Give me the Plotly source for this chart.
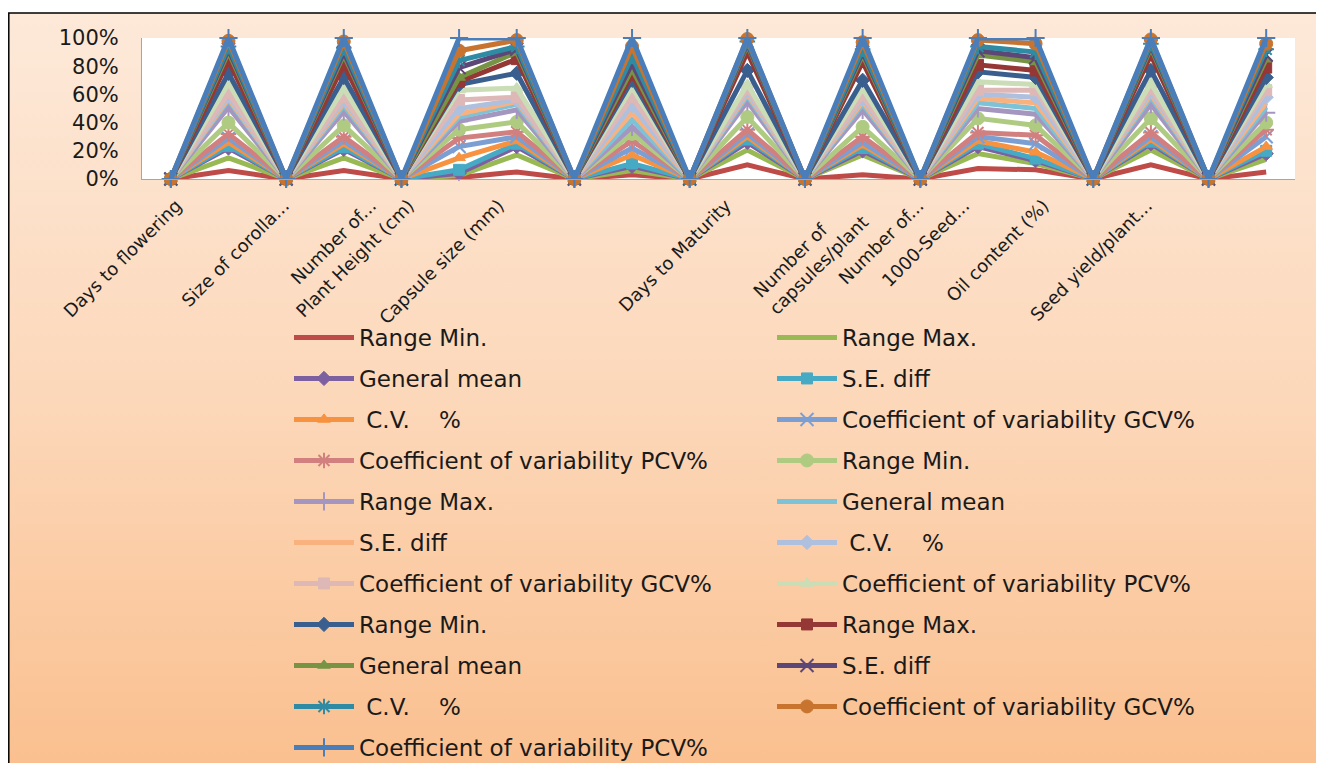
import base64
import plotly.graph_objects as go

# 20 category columns on the axis; the spacer columns hold zero values
slots = list(range(20))

trait_labels = ["Days to flowering", "Size of corolla...", "Number of...", "Plant Height (cm)",
                "Capsule size (mm)", "Days to Maturity",
                "Number of" + "\u00a0" * 6 + "<br>capsules/plant",
                "Number of...", "1000-Seed...", "Oil content (%)", "Seed yield/plant..."]

series_names = ["Range Min.", "Range Max.", "General mean", "S.E. diff",
                "\u00a0C.V.\u00a0\u00a0\u00a0\u00a0%", "Coefficient of variability GCV%",
                "Coefficient of variability PCV%"] * 3

y_tick_values = [0, 20, 40, 60, 80, 100]
y_tick_labels = ["0%", "20%", "40%", "60%", "80%", "100%"]

# share of each series (percent of column total) per column
range_min_1 = [0, 6, 0, 6, 0, 1, 5, 0, 3, 0, 10, 0, 3, 0, 7.5, 6.5, 0, 10, 0, 5]
range_max_1 = [0, 9, 0, 9, 0, 1.5, 12, 0, 3, 0, 10.5, 0, 14, 0, 10.5, 4.5, 0, 10.5, 0, 9]
mean_1 = [0, 7, 0, 6, 0, 1.5, 6, 0, 3, 0, 5.5, 0, 3, 0, 5, 2, 0, 4.5, 0, 4]
se_1 = [0, 1.5, 0, 1.5, 0, 2.5, 2, 0, 2, 0, 2, 0, 2, 0, 2, 1.5, 0, 1.5, 0, 2]
cv_1 = [0, 2.5, 0, 2.5, 0, 8.5, 2, 0, 6, 0, 2, 0, 2, 0, 2, 4.5, 0, 1.5, 0, 3]
gcv_1 = [0, 3, 0, 2, 0, 8, 3, 0, 5, 0, 2, 0, 2, 0, 3, 6, 0, 2, 0, 7]
pcv_1 = [0, 3, 0, 3, 0, 6, 3.5, 0, 5, 0, 3, 0, 4, 0, 3, 6, 0, 3, 0, 5]
range_min_2 = [0, 8, 0, 8, 0, 6, 7, 0, 5, 0, 9, 0, 7, 0, 10, 7, 0, 10, 0, 5]
range_max_2 = [0, 11, 0, 10, 0, 6, 8.5, 0, 5, 0, 11, 0, 12, 0, 7, 8, 0, 10, 0, 7]
mean_2 = [0, 5, 0, 4, 0, 3, 4, 0, 5, 0, 4, 0, 4, 0, 4, 4, 0, 5, 0, 4]
se_2 = [0, 1.5, 0, 2, 0, 2, 2, 0, 5, 0, 1.5, 0, 2, 0, 3, 4, 0, 2, 0, 3]
cv_2 = [0, 1.5, 0, 2, 0, 4, 1, 0, 5, 0, 1.5, 0, 2, 0, 3, 4, 0, 2, 0, 4]
gcv_2 = [0, 2, 0, 2, 0, 6, 2, 0, 6, 0, 2, 0, 2, 0, 3, 5, 0, 2, 0, 5]
pcv_2 = [0, 7, 0, 6, 0, 7, 6.5, 0, 7, 0, 3, 0, 5, 0, 6, 4, 0, 4, 0, 4]
range_min_3 = [0, 7, 0, 8, 0, 4, 10.5, 0, 5, 0, 10, 0, 6, 0, 7, 5, 0, 9, 0, 5]
range_max_3 = [0, 9, 0, 9, 0, 2, 10, 0, 4, 0, 13, 0, 13, 0, 5, 5, 0, 11, 0, 7]
mean_3 = [0, 6, 0, 7, 0, 3, 5, 0, 4, 0, 5, 0, 5, 0, 7, 6, 0, 5, 0, 6]
se_3 = [0, 2, 0, 2, 0, 7, 2, 0, 4, 0, 1, 0, 2, 0, 3, 3, 0, 1.5, 0, 3]
cv_3 = [0, 2, 0, 3, 0, 5, 2, 0, 5, 0, 1.5, 0, 2, 0, 3, 4, 0, 1.5, 0, 4]
gcv_3 = [0, 4, 0, 4.5, 0, 7, 4.5, 0, 7, 0, 1.8, 0, 5, 0, 4.5, 6, 0, 3, 0, 4]
pcv_3 = [0, 2, 0, 2.5, 0, 9, 1.5, 0, 6, 0, 0.7, 0, 3, 0, 1.5, 4, 0, 1, 0, 4]

series_values = [range_min_1, range_max_1, mean_1, se_1, cv_1, gcv_1, pcv_1,
                 range_min_2, range_max_2, mean_2, se_2, cv_2, gcv_2, pcv_2,
                 range_min_3, range_max_3, mean_3, se_3, cv_3, gcv_3, pcv_3]

# ---- styling (positions / colours / symbols) ----
colors = ["#BE4B48", "#98B954", "#7D60A0", "#46AAC5", "#F69240", "#7C9FD3", "#D1807F",
          "#AFCB82", "#A596C0", "#7DC2D6", "#F9B17E", "#AFC0DE", "#DDB8B7", "#CADDB7",
          "#3A5F8E", "#953735", "#779444", "#5C4776", "#2E8BA3", "#C8742E", "#4A7EBB"]
symbols = [None, None, "diamond", "square", "triangle-up", "x-thin", "asterisk",
           "circle", "cross-thin", None, None, "diamond", "square", "triangle-up",
           "diamond", "square", "triangle-up", "x-thin", "asterisk", "circle", "cross-thin"]
label_positions = [0.10, 1.96, 3.47, 4.13, 5.69, 9.63, 11.72, 12.97, 13.76, 15.14, 16.93]

# page has an 8px body margin: figure pixel = page pixel - 8
OFF = 8
W, H = 1324 - OFF, 763 - OFF
L, R, T, B = 142 - OFF, 1295 - OFF, 38 - OFF, 179 - OFF
pw, ph = R - L, B - T

def px_x(page_px):
    return (page_px - OFF - L) / pw

def px_y(page_py):
    return (B - (page_py - OFF)) / ph

fig = go.Figure()
for i, (name, vals) in enumerate(zip(series_names, series_values)):
    sym = symbols[i]
    thin = sym in ("x-thin", "asterisk", "cross-thin")
    marker = dict(color=colors[i], size=13 if (sym == "circle" or thin) else 11,
                  line=dict(color=colors[i], width=2 if thin else 1))
    if sym:
        marker["symbol"] = sym
    fig.add_trace(go.Scatter(
        x=slots, y=vals, name=name, stackgroup="one", fill="none",
        mode="lines+markers" if sym else "lines",
        line=dict(color=colors[i], width=5),
        marker=marker, cliponaxis=False,
        legend="legend" if i % 2 == 0 else "legend2",
        legendgroup=f"g{i}",
    ))

svg = ('<svg xmlns="http://www.w3.org/2000/svg" width="100" height="100" preserveAspectRatio="none">'
       '<defs><linearGradient id="g" x1="0" y1="0" x2="0" y2="1">'
       '<stop offset="0" stop-color="#FDE9D9"/><stop offset="0.5" stop-color="#FCD8BA"/>'
       '<stop offset="1" stop-color="#FABF8E"/></linearGradient></defs>'
       '<rect width="100" height="100" fill="url(#g)"/></svg>')
src = "data:image/svg+xml;base64," + base64.b64encode(svg.encode()).decode()

legend_common = dict(xref="container", yref="container", xanchor="left", yanchor="top",
                     orientation="v", traceorder="grouped", tracegroupgap=8.1, itemwidth=60,
                     bgcolor="rgba(0,0,0,0)", maxheight=900,
                     font=dict(family="DejaVu Sans", size=23, color="#1a1a1a"))

fig.update_layout(
    width=W, height=H,
    margin=dict(l=L, r=W - R, t=T, b=H - B, pad=0, autoexpand=False),
    paper_bgcolor="white", plot_bgcolor="white",
    showlegend=True,
    legend=dict(x=281 / W, y=1 - 308 / H, **legend_common),
    legend2=dict(x=764 / W, y=1 - 308 / H, **legend_common),
    xaxis=dict(range=[-0.5, 19.5], tickmode="array", tickvals=label_positions,
               ticktext=trait_labels, tickangle=-45, showgrid=False, zeroline=False,
               showline=True, linecolor="#A6A6A6", linewidth=1, automargin=False,
               ticks="outside", ticklen=8, tickcolor="rgba(0,0,0,0)",
               tickfont=dict(family="DejaVu Sans", size=18, color="#1a1a1a")),
    yaxis=dict(range=[0, 100], tickmode="array", tickvals=y_tick_values, ticktext=y_tick_labels,
               showgrid=False, zeroline=False, showline=True, linecolor="#A6A6A6", linewidth=1,
               automargin=False,
               ticks="outside", ticklen=18, tickcolor="rgba(0,0,0,0)",
               tickfont=dict(family="DejaVu Sans", size=21, color="#1a1a1a")),
    images=[dict(source=src, xref="paper", yref="paper", x=px_x(8), y=px_y(13),
                 sizex=(1317 - 8) / pw, sizey=(775 - 13) / ph, sizing="stretch",
                 xanchor="left", yanchor="top", layer="below")],
    shapes=[
        dict(type="rect", xref="x domain", yref="y domain", x0=0, x1=1, y0=0, y1=1,
             fillcolor="white", line=dict(width=0), layer="below"),
        dict(type="rect", xref="paper", yref="paper", x0=px_x(8.8), x1=px_x(1317),
             y0=px_y(775), y1=px_y(13), line=dict(color="black", width=1.5),
             fillcolor="rgba(0,0,0,0)", layer="below"),
    ],
)

fig.write_html("out.html")
